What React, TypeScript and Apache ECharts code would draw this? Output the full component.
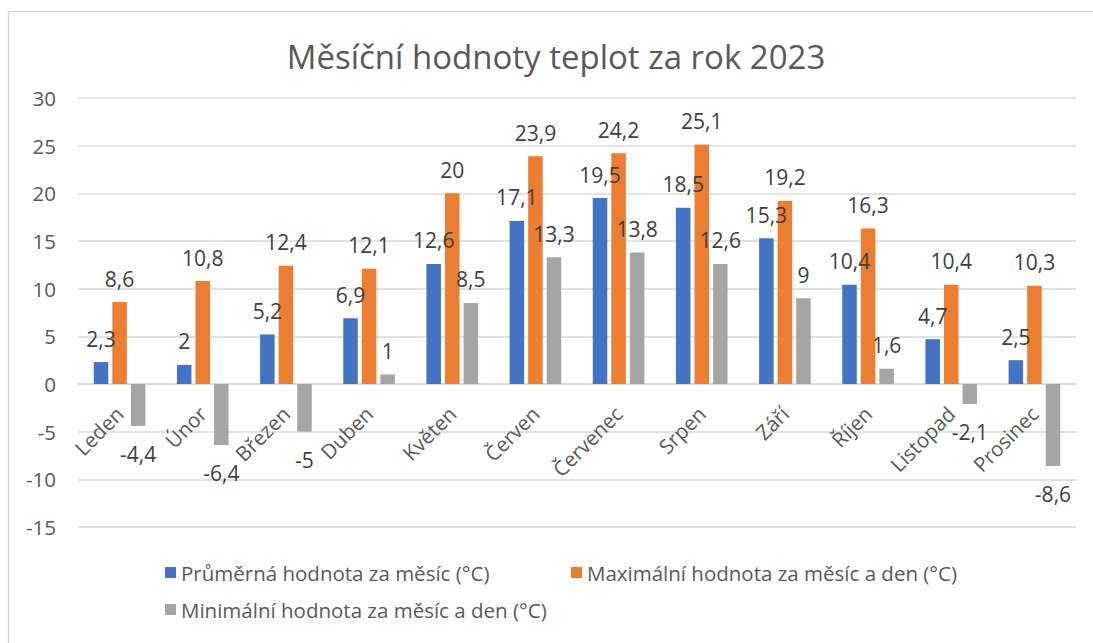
import React, { useEffect, useRef } from "react";
import * as echarts from "echarts";

const months = ["Leden", "Únor", "Březen", "Duben", "Květen", "Červen", "Červenec", "Srpen", "Září", "Říjen", "Listopad", "Prosinec"];
const avgTemps = [2.3, 2, 5.2, 6.9, 12.6, 17.1, 19.5, 18.5, 15.3, 10.4, 4.7, 2.5];
const maxTemps = [8.6, 10.8, 12.4, 12.1, 20, 23.9, 24.2, 25.1, 19.2, 16.3, 10.4, 10.3];
const minTemps = [-4.4, -6.4, -5, 1, 8.5, 13.3, 13.8, 12.6, 9, 1.6, -2.1, -8.6];
const seriesNames = [
  "Průměrná hodnota za měsíc (°C)",
  "Maximální hodnota za měsíc a den (°C)",
  "Minimální hodnota za měsíc a den (°C)",
];
const colors = ["#4472C4", "#ED7D31", "#A5A5A5"];
const titleText = "Měsíční hodnoty teplot za rok 2023";

const FONT = "'Open Sans', sans-serif";

export default function App() {
  const ref = useRef<HTMLDivElement>(null);
  useEffect(() => {
    if (!ref.current) return;
    const chart = echarts.init(ref.current, null, { renderer: "svg" });
    const fmt = (v: number) => String(v).replace(".", ",");
    const mk = (vals: number[]) =>
      vals.map((v) => ({
        value: v,
        label: { position: v < 0 ? "bottom" : "top", distance: v < 0 ? 17.5 : 13 },
      }));
    const all = [avgTemps, maxTemps, minTemps];
    const legendTextStyle = { color: "#595959", fontSize: 20.5, fontFamily: FONT };
    const gridTop = 98;
    const gridBottomPx = 527;
    const zeroPx = gridTop + ((gridBottomPx - gridTop) * 30) / 45;
    const legendBase = { itemWidth: 11, itemHeight: 11, icon: "rect", itemGap: 6, textStyle: legendTextStyle };
    chart.setOption({
      animation: false,
      textStyle: { fontFamily: FONT },
      graphic: [
        {
          type: "rect",
          shape: { x: 8.5, y: 11.5, width: 1200, height: 800 },
          style: { fill: "none", stroke: "#D9D9D9", lineWidth: 1.5 },
          silent: true,
          z: -10,
        },
        {
          type: "text",
          x: 556,
          y: 56,
          style: {
            text: titleText,
            fill: "#595959",
            fontSize: 33,
            fontFamily: FONT,
            textAlign: "center",
            textVerticalAlign: "middle",
          },
        },
      ],
      legend: [
        { ...legendBase, data: [seriesNames[0]], left: 160, top: 557 },
        { ...legendBase, data: [seriesNames[1]], left: 566, top: 557 },
        { ...legendBase, data: [seriesNames[2]], left: 160, top: 594 },
      ],
      grid: { left: 78, right: 17, top: gridTop, bottom: 643 - gridBottomPx, containLabel: false },
      xAxis: {
        type: "category",
        data: months,
        position: "bottom",
        offset: -(gridBottomPx - zeroPx),
        axisLine: { onZero: false, lineStyle: { color: "#D9D9D9", width: 1.5 } },
        axisTick: { show: false },
        axisLabel: {
          rotate: 45,
          color: "#595959",
          fontSize: 20.5,
          fontFamily: FONT,
          margin: 26,
          interval: 0,
        },
      },
      yAxis: {
        type: "value",
        min: -15,
        max: 30,
        interval: 5,
        axisLine: { show: false },
        axisTick: { show: false },
        axisLabel: { color: "#595959", fontSize: 20.5, fontFamily: FONT, margin: 22 },
        splitLine: { lineStyle: { color: "#D9D9D9", width: 1.5 } },
      },
      series: all.map((vals, i) => ({
        name: seriesNames[i],
        type: "bar",
        data: mk(vals),
        barWidth: 14.5,
        barGap: "28%",
        itemStyle: { color: colors[i] },
        label: {
          show: true,
          color: "#404040",
          fontSize: 21,
          fontFamily: FONT,
          formatter: (p: any) => fmt(p.value),
        },
      })),
    });
    return () => chart.dispose();
  }, []);
  return (
    <div
      ref={ref}
      style={{ position: "absolute", left: 0, top: 0, width: 1093, height: 643, background: "#fff" }}
    />
  );
}
